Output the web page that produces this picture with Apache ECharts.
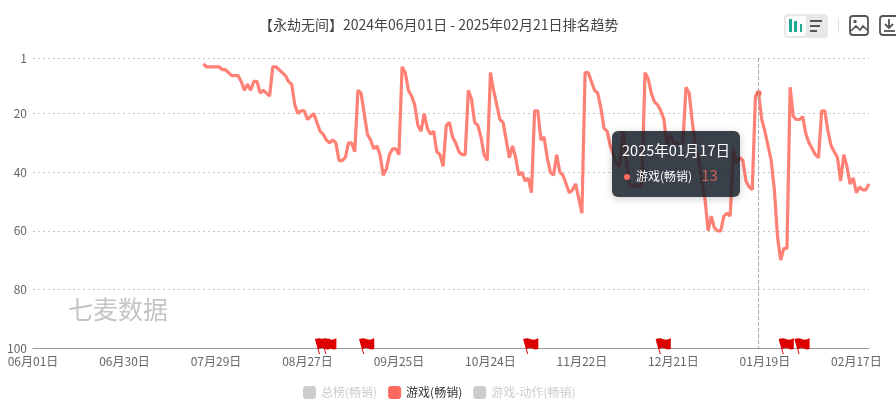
<!DOCTYPE html>
<html><head><meta charset="utf-8">
<style>html,body{margin:0;padding:0;background:#fff;overflow:hidden}#c{width:896px;height:414px}</style>
<script src="https://cdn.jsdelivr.net/npm/echarts@6/dist/echarts.min.js"></script>
</head><body><div id="c"></div>
<script>
const titleText = '【永劫无间】2024年06月01日 - 2025年02月21日排名趋势';
const watermark = '七麦数据';
const legendNames = ['总榜(畅销)', '游戏(畅销)', '游戏-动作(畅销)'];
const startDate = [2024, 6, 1];
const dayCount = 266;
const labelEveryDays = 29;
const firstRankDay = 54;
const ranks = [3,4,4,4,4,4,5,5,6,7,7,7,9,12,10,12,9,9,13,12,13,14,4,4,5,6,7,9,10,17,20,19,19,22,21,20,23,26,27,29,30,29,30,36,36,35,30,30,33,12,13,20,27,29,32,31,34,41,39,34,32,32,34,4,6,12,14,17,24,26,20,25,27,26,33,34,38,24,23,28,30,33,34,34,12,15,23,24,28,34,36,6,12,17,22,23,29,35,31,35,41,40,43,42,47,19,19,29,28,35,40,41,34,40,41,44,47,46,44,49,54,6,6,9,12,13,18,25,26,31,34,37,38,26,35,44,45,44,45,44,6,8,13,16,17,19,22,31,27,30,30,31,30,11,13,23,31,36,43,49,60,55,59,60,60,55,54,55,32,37,35,36,43,45,46,14,13,22,26,31,36,46,62,70,66,66,11,21,22,22,21,27,30,32,34,35,19,19,26,31,33,35,43,34,38,44,42,47,45,46,46,44];
const flagDays = [91,93,105,157,199,238,243];
const tooltipDay = 230;

const categories = [], tipDates = [];
for (let i = 0; i < dayCount; i++) {
  const d = new Date(startDate[0], startDate[1] - 1, startDate[2] + i);
  const m = String(d.getMonth() + 1).padStart(2, '0'), n = String(d.getDate()).padStart(2, '0');
  categories.push(m + '月' + n + '日');
  tipDates.push(d.getFullYear() + '年' + m + '月' + n + '日');
}
const seriesData = new Array(firstRankDay).fill(null).concat(ranks);
const FONT = '"Noto Sans CJK SC","Noto Sans",sans-serif';
const RED = '#f9756a';
const LEGEND_RED = '#fc6a5f';
const flagPath = 'path://M0 1 C3 0 5 0 7 1 C10 2 12 2 15 0 L15 11 C12 12 10 11 8 10 C6 10 5 10 3.5 11 L5 16 L4 16 L0 2 Z';
const ICON = '#555';

const chart = echarts.init(document.getElementById('c'), null, {renderer:'canvas'});
chart.setOption({
  animation:false,
  textStyle:{fontFamily:FONT},
  title:{text:titleText,left:254,top:13,textStyle:{fontSize:14,fontWeight:'normal',color:'#444',fontFamily:FONT}},
  grid:{left:33,right:27,top:58,bottom:66},
  legend:{data:legendNames,bottom:10,left:298,itemWidth:13,itemHeight:13,itemGap:11,icon:'roundRect',
    selected:{[legendNames[0]]:false,[legendNames[2]]:false},
    inactiveColor:'#ccc',textStyle:{fontSize:12,color:'#333',fontFamily:FONT}},
  tooltip:{trigger:'axis',alwaysShowContent:true,position:[612,131],transitionDuration:0,
    backgroundColor:'rgba(23,31,41,0.85)',borderWidth:0,padding:[9,10],
    extraCssText:'width:128px;height:66px;box-sizing:border-box;border-radius:6px;box-shadow:0 2px 8px rgba(0,0,0,.2);',
    axisPointer:{type:'line',lineStyle:{type:'dashed',color:'#aaa',width:1}},
    formatter:(ps)=>{const p=ps.find(x=>x.seriesName===legendNames[1])||ps[0];
      return '<div style="font-size:14.5px;color:#fff;line-height:20px;text-align:center;white-space:nowrap">'+tipDates[p.dataIndex]+'</div>'+
      '<div style="margin-top:4px;line-height:22px;white-space:nowrap;color:#fff;font-size:12px;padding-left:2px">'+
      '<span style="display:inline-block;width:6px;height:6px;border-radius:50%;background:'+LEGEND_RED+';margin-right:6px;vertical-align:1px"></span>'+
      p.seriesName+'<span style="font-size:15px;color:#c9625a;margin-left:9px">'+p.value+'</span></div>';}},
  xAxis:{type:'category',boundaryGap:false,data:categories,
    axisLine:{lineStyle:{color:'#999'}},axisTick:{show:false},
    axisLabel:{interval:(i)=>i%labelEveryDays===0,color:'#666',fontSize:12,margin:7,fontFamily:FONT},splitLine:{show:false}},
  yAxis:{type:'value',inverse:true,min:1,max:100,
    axisLine:{show:false},axisTick:{show:false},
    axisLabel:{color:'#666',fontSize:12,margin:6,fontFamily:FONT},
    splitLine:{lineStyle:{type:[2,3],color:'#c4c4c4'}}},
  series:[
    {name:legendNames[0],type:'line',data:[],itemStyle:{color:'#3aa0ff'}},
    {name:legendNames[1],type:'line',data:seriesData,connectNulls:false,showSymbol:false,symbol:'circle',symbolSize:4,
      lineStyle:{color:RED,width:3.2},itemStyle:{color:LEGEND_RED,borderWidth:0},
      markPoint:{silent:true,symbol:flagPath,symbolSize:[15,16],symbolOffset:[2.5,-2],symbolKeepAspect:false,
        itemStyle:{color:'#dd0000'},label:{show:false},
        data:flagDays.map(d=>({coord:[categories[d],100]}))}},
    {name:legendNames[2],type:'line',data:[],itemStyle:{color:'#52c41a'}}
  ],
  graphic:[
    {type:'text',left:68,top:297,silent:true,style:{text:watermark,font:'25px '+FONT,fill:'#c4c4c4'}},
    {type:'rect',shape:{x:784,y:14,width:44,height:24,r:4},style:{fill:'#e8e8e8'},silent:true},
    {type:'rect',shape:{x:786,y:16,width:20,height:20,r:3},style:{fill:'#fbfbfb'},silent:true},
    {type:'rect',shape:{x:789,y:19,width:3,height:13},style:{fill:'#1fa98f'},silent:true},
    {type:'rect',shape:{x:794,y:21,width:3,height:11},style:{fill:'#1fa98f'},silent:true},
    {type:'rect',shape:{x:800,y:24,width:2,height:8},style:{fill:'#1fa98f'},silent:true},
    {type:'rect',shape:{x:810,y:20,width:12,height:2},style:{fill:ICON},silent:true},
    {type:'rect',shape:{x:810,y:25,width:10,height:2},style:{fill:ICON},silent:true},
    {type:'rect',shape:{x:810,y:30,width:7,height:2},style:{fill:ICON},silent:true},
    {type:'rect',shape:{x:838,y:19,width:1,height:14},style:{fill:'#ddd'},silent:true},
    {type:'rect',shape:{x:850,y:16,width:18,height:19,r:3},style:{fill:'none',stroke:ICON,lineWidth:1.8},silent:true},
    {type:'circle',shape:{cx:855,cy:21.5,r:1.7},style:{fill:ICON},silent:true},
    {type:'polyline',shape:{points:[[851,31],[856,26],[860,30],[863,26],[867,30]]},style:{fill:'none',stroke:ICON,lineWidth:1.6},silent:true},
    {type:'rect',shape:{x:880,y:16,width:18,height:19,r:3},style:{fill:'none',stroke:ICON,lineWidth:1.8},silent:true},
    {type:'polyline',shape:{points:[[889,19],[889,27]]},style:{fill:'none',stroke:ICON,lineWidth:1.8},silent:true},
    {type:'polyline',shape:{points:[[885,24],[889,28],[893,24]]},style:{fill:'none',stroke:ICON,lineWidth:1.8},silent:true},
    {type:'polyline',shape:{points:[[884,31],[895,31]]},style:{fill:'none',stroke:ICON,lineWidth:1.8},silent:true}
  ]
});
chart.dispatchAction({type:'showTip',seriesIndex:1,dataIndex:tooltipDay});
</script></body></html>
